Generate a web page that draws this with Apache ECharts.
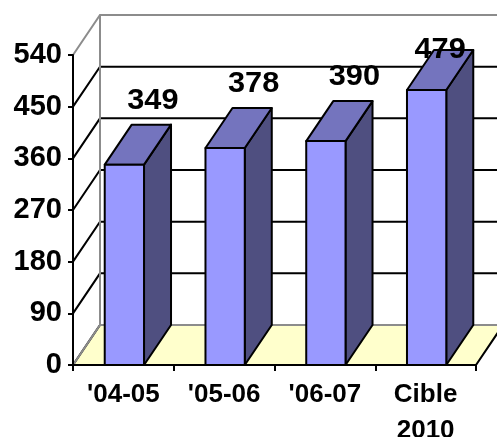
<!DOCTYPE html>
<html>
<head>
<meta charset="utf-8">
<script src="https://cdn.jsdelivr.net/npm/echarts@6/dist/echarts.min.js"></script>
<style>
html,body{margin:0;padding:0;background:#fff;}
#c{width:497px;height:437px;}
</style>
</head>
<body>
<div id="c"></div>
<script>
const categories = ["'04-05", "'05-06", "'06-07", "Cible\n2010"];
const values = [349, 378, 390, 479];
const yTicks = [0, 90, 180, 270, 360, 450, 540];

const DX = 27, DY = -40;
const FONT = '"Liberation Sans", Arial, sans-serif';
const chart = echarts.init(document.getElementById('c'), null, {renderer: 'canvas'});

function wallsRender(params, api) {
  const cs = params.coordSys;
  const x = cs.x, y = cs.y, w = cs.width, h = cs.height;
  const children = [];
  children.push({type: 'rect', shape: {x: x + DX, y: y + DY, width: w, height: h}, style: {fill: '#fff'}});
  children.push({type: 'polygon', shape: {points: [[x, y + h], [x, y], [x + DX, y + DY], [x + DX, y + h + DY]]}, style: {fill: '#fff'}});
  children.push({type: 'polygon', shape: {points: [[x, y + h], [x + w, y + h], [x + w + DX, y + h + DY], [x + DX, y + h + DY]]},
    style: {fill: '#FFFFCC', stroke: '#000', lineWidth: 2}});
  yTicks.forEach(function (v) {
    const py = api.coord([0, v])[1];
    const edge = (v === yTicks[0] || v === yTicks[yTicks.length - 1]);
    children.push({type: 'polyline', shape: {points: [[x, py], [x + DX, py + DY], [x + w + DX, py + DY]]},
      style: {stroke: edge ? '#8c8c8c' : '#000', lineWidth: 2, fill: null}});
  });
  children.push({type: 'line', shape: {x1: x + DX, y1: y + DY, x2: x + DX, y2: y + h + DY}, style: {stroke: '#8c8c8c', lineWidth: 2}});
  return {type: 'group', children: children};
}

function barRender(params, api) {
  const i = api.value(0), v = api.value(1);
  const top = api.coord([i, v]);
  const base = api.coord([i, 0]);
  const band = api.size([1, 0])[0];
  const bw = band * 0.39;
  const x0 = top[0] - bw / 2 + 1;
  const ty = top[1], by = base[1];
  const st = {stroke: '#000', lineWidth: 2, lineJoin: 'round'};
  const cs = params.coordSys;
  let ly = ty + DY - 24;
  let lx = x0 + bw / 2 + DX / 2 + 15;
  if (ly < cs.y - 5) { ly = cs.y - 5; lx = x0 + bw / 2 + DX / 2; }
  return {type: 'group', children: [
    {type: 'polygon', shape: {points: [[x0 + bw, ty], [x0 + bw + DX, ty + DY], [x0 + bw + DX, by + DY], [x0 + bw, by]]},
      style: Object.assign({fill: '#4F4F80'}, st)},
    {type: 'polygon', shape: {points: [[x0, ty], [x0 + bw, ty], [x0 + bw + DX, ty + DY], [x0 + DX, ty + DY]]},
      style: Object.assign({fill: '#7474BE'}, st)},
    {type: 'rect', shape: {x: x0, y: ty, width: bw, height: by - ty},
      style: Object.assign({fill: '#9999FF'}, st)},
    {type: 'text', x: lx, y: ly, z2: 100, scaleX: 1.06, style: {text: String(v), fill: '#000', font: 'bold 29px ' + FONT,
      align: 'center', verticalAlign: 'middle'}}
  ]};
}

chart.setOption({
  animation: false,
  backgroundColor: '#fff',
  grid: {left: 73, right: 21, top: 55, bottom: 72, containLabel: false, outerBoundsMode: 'none'},
  xAxis: {
    type: 'category', data: categories,
    axisLine: {lineStyle: {color: '#000', width: 2}},
    axisTick: {show: true, length: 6, lineStyle: {color: '#000', width: 2}},
    axisLabel: {color: '#000', fontWeight: 'bold', fontSize: 26, fontFamily: FONT, lineHeight: 36, margin: 12, interval: 0},
    z: 10
  },
  yAxis: {
    type: 'value', min: 0, max: 540, interval: 90,
    axisLine: {show: true, lineStyle: {color: '#000', width: 2}},
    axisTick: {show: true, length: 5, lineStyle: {color: '#000', width: 2}},
    axisLabel: {color: '#000', fontWeight: 'bold', fontSize: 29, fontFamily: FONT, margin: 11},
    splitLine: {show: false},
    z: 10
  },
  series: [
    {type: 'custom', name: 'walls', data: [[0, 0]], renderItem: wallsRender, clip: false, silent: true, z: 1},
    {type: 'custom', name: 'bars', data: values.map(function (v, i) { return [i, v]; }), renderItem: barRender, clip: false, z: 5,
      encode: {x: 0, y: 1}}
  ]
});
</script>
</body>
</html>
